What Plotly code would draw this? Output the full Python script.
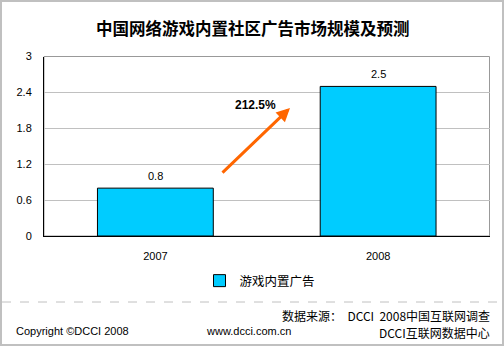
import plotly.graph_objects as go

W, H = 504, 346

categories = ["2007", "2008"]
values = [0.8, 2.5]
value_labels = ["0.8", "2.5"]
series_name = "游戏内置广告"
growth_label = "212.5%"
title_text = "中国网络游戏内置社区广告市场规模及预测"
y_ticks = [0, 0.6, 1.2, 1.8, 2.4, 3]
y_tick_labels = ["0", "0.6", "1.2", "1.8", "2.4", "3"]

FONT = "Liberation Sans, Arial, Noto Sans CJK SC, sans-serif"
CJK = "Noto Sans CJK SC, Liberation Sans, sans-serif"

def px(x):
    return x / W

def py(y):
    return 1 - y / H

fig = go.Figure()
fig.add_trace(go.Bar(
    x=categories, y=values, name=series_name,
    marker=dict(color="#00CCFF", line=dict(color="#000000", width=1)),
    showlegend=True,
))

annotations = []
for i, (v, t) in enumerate(zip(values, value_labels)):
    annotations.append(dict(x=i, y=v, xref="x", yref="y", text=t, showarrow=False,
                            yanchor="bottom", yshift=4,
                            font=dict(family=FONT, size=11, color="#000000")))

# title
annotations.append(dict(x=px(253), y=py(28), xref="paper", yref="paper", text="<b>" + title_text + "</b>",
                        showarrow=False, xanchor="center", yanchor="middle",
                        font=dict(family=CJK, size=16.5, color="#000000")))
# growth arrow
annotations.append(dict(x=px(290), y=py(108), ax=221 - 290, ay=174 - 108, xref="paper", yref="paper",
                        axref="pixel", ayref="pixel", text="", showarrow=True,
                        arrowhead=2, arrowsize=0.9, arrowwidth=3, arrowcolor="#FF6600"))
annotations.append(dict(x=px(255), y=py(105), xref="paper", yref="paper", text="<b>" + growth_label + "</b>",
                        showarrow=False, xanchor="center", yanchor="middle",
                        font=dict(family=FONT, size=12, color="#000000")))
# footer
foot = dict(family=CJK, size=12, color="#000000")
annotations.append(dict(x=px(492), y=py(315), xref="paper", yref="paper", text="数据来源：  DCCI  2008中国互联网调查",
                        showarrow=False, xanchor="right", yanchor="middle", font=foot))
annotations.append(dict(x=px(14), y=py(331), xref="paper", yref="paper", text="Copyright ©DCCI 2008",
                        showarrow=False, xanchor="left", yanchor="middle", font=dict(family=FONT, size=11, color="#000000")))
annotations.append(dict(x=px(248), y=py(331), xref="paper", yref="paper", text="www.dcci.com.cn",
                        showarrow=False, xanchor="center", yanchor="middle", font=dict(family=FONT, size=11, color="#000000")))
annotations.append(dict(x=px(492), y=py(332), xref="paper", yref="paper", text="DCCI互联网数据中心",
                        showarrow=False, xanchor="right", yanchor="middle", font=foot))

shapes = [
    dict(type="rect", xref="paper", yref="paper", x0=px(44), x1=px(489.5), y0=py(236), y1=py(56.5),
         line=dict(color="#999999", width=1), layer="below"),
    dict(type="line", xref="paper", yref="paper", x0=px(2), x1=px(502), y0=py(302), y1=py(302),
         line=dict(color="#C0C0C0", width=1, dash="dash")),
    dict(type="rect", xref="paper", yref="paper", x0=px(1), x1=px(503), y0=py(345), y1=py(1),
         line=dict(color="#C0C0C0", width=2)),
]

fig.update_layout(
    width=W, height=H,
    margin=dict(l=0, r=0, t=0, b=0, pad=0, autoexpand=False),
    paper_bgcolor="#FFFFFF", plot_bgcolor="#FFFFFF",
    bargap=0.48,
    font=dict(family=FONT, size=11, color="#000000"),
    xaxis=dict(type="category", range=[-0.5, 1.5], domain=[px(44), px(489.5)], showline=True,
               linecolor="#000000", linewidth=1, automargin=False,
               showgrid=False, ticks="", ticklabelstandoff=10,
               tickfont=dict(family=FONT, size=11, color="#000000")),
    yaxis=dict(domain=[py(236), py(56.5)], range=[0, 3], tickvals=y_ticks, ticktext=y_tick_labels,
               showline=True, linecolor="#000000", linewidth=1, automargin=False,
               showgrid=True, gridcolor="#C0C0C0", gridwidth=1, zeroline=False,
               ticks="", ticklabelstandoff=9,
               tickfont=dict(family=FONT, size=11, color="#000000")),
    legend=dict(orientation="h", x=px(260), xanchor="center", y=py(281), yanchor="middle",
                font=dict(family=CJK, size=12.5, color="#000000"), bgcolor="rgba(0,0,0,0)",
                itemwidth=30),
    annotations=annotations,
    shapes=shapes,
)

fig.write_html("out.html")
